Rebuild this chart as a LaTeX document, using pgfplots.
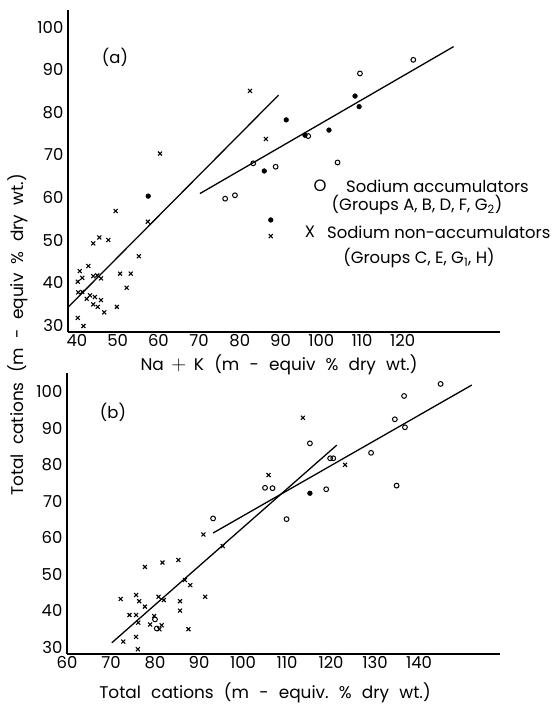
\documentclass[border=0pt]{standalone}
\usepackage{fontspec}
\setmainfont{Poppins}
\usepackage{pgfplots}
\pgfplotsset{compat=1.18}
\newcommand\ws[1][0.6em]{\hspace{#1}}
\pgfplotsset{
  myax/.style={
    scale only axis, axis lines=left, axis line style={-, line width=1.4pt},
    tick style={draw=none}, clip=false,
    /pgf/number format/assume math mode=true,
    ticklabel style={font=\fontsize{16.5}{19}\selectfont},
    xticklabel style={yshift=3pt},
    yticklabel style={xshift=1pt},
  },
  xs/.style={only marks, mark=x, mark size=2.8pt, mark options={line width=1.1pt}, black},
  os/.style={only marks, mark=o, mark size=2.4pt, mark options={line width=1pt}, black},
  fs/.style={only marks, mark=*, mark size=2.4pt, black},
  ln/.style={line width=1.3pt, black, no marks},
}
\begin{document}
\begin{tikzpicture}
\useasboundingbox (0bp,0bp) rectangle (556bp,705bp);
% ---------- panel (a)
\begin{axis}[myax, at={(68bp,373bp)}, anchor=south west, width=432bp, height=322bp,
  xmin=37.8, xmax=143.9, ymin=28.4, ymax=104,
  xtick={40,50,...,120}, ytick={30,40,...,100}]
\addplot[xs] coordinates {
(82.5,85.0) (86.4,73.7) (87.6,50.9) (60.4,70.3) (49.5,56.8) (57.4,54.3)
(44.0,49.2) (45.5,50.6) (47.7,50.0) (55.2,46.2) (40.7,42.7) (42.8,43.9)
(41.3,41.1) (40.2,40.2) (44.0,41.5) (45.0,41.7) (45.9,41.0) (50.6,42.1)
(53.2,42.1) (52.2,38.8) (40.3,37.7) (41.3,37.8) (42.4,36.2) (43.2,37.0)
(44.4,36.6) (44.0,34.9) (45.1,34.3) (45.9,35.9) (46.7,33.0) (49.8,34.3)
(40.2,31.7) (41.6,29.8)};
\addplot[os] coordinates {
(122.6,92.3) (109.5,89.1) (96.8,74.4) (83.3,68.0) (88.8,67.2) (104.0,68.2)
(76.4,59.7) (78.8,60.5)};
\addplot[fs] coordinates {
(108.3,83.8) (109.3,81.3) (91.4,78.2) (101.9,75.8) (86.0,66.2) (87.6,54.7)
(57.5,60.3) (96.0,74.6)};
\addplot[ln] coordinates {(37.9,34.3) (89.5,84.0)};
\addplot[ln] coordinates {(70.2,60.9) (132.5,95.4)};
\end{axis}
% ---------- panel (b)
\begin{axis}[myax, at={(67bp,51bp)}, anchor=south west, width=433bp, height=281bp,
  xmin=60, xmax=158.4, ymin=28.1, ymax=105.2,
  xtick={60,70,...,140}, ytick={30,40,...,100}]
\addplot[xs] coordinates {
(113.6,92.9) (105.8,77.2) (123.2,80.0) (91.0,60.9) (95.4,57.7) (77.7,52.0)
(81.7,53.2) (85.3,53.9) (86.8,48.4) (88.0,47.0) (91.4,43.8) (72.2,43.2)
(75.7,44.3) (76.4,42.6) (80.8,43.8) (82.0,42.9) (85.7,42.6) (85.7,40.0)
(77.7,41.1) (74.2,38.8) (75.7,38.8) (76.2,36.7) (79.8,38.5) (78.9,36.2)
(81.5,36.0) (81.0,34.9) (87.6,34.9) (75.7,32.8) (72.8,31.5) (76.1,29.4)};
\addplot[os] coordinates {
(144.9,102.2) (136.6,98.9) (134.5,92.5) (136.8,90.3) (129.1,83.3) (134.9,74.3)
(115.2,85.9) (119.8,81.8) (120.5,81.8) (105.0,73.7) (106.7,73.6) (118.9,73.3)
(109.9,65.1) (93.2,65.3) (80.0,37.6) (80.4,35.1)};
\addplot[fs] coordinates {(115.2,72.2)};
\addplot[ln] coordinates {(70.2,31.2) (121.3,85.4)};
\addplot[ln] coordinates {(93.2,61.3) (152.0,101.9)};
\end{axis}
% ---------- texts
\begin{scope}[every node/.style={font=\fontsize{16.5}{19}\selectfont, inner sep=0pt}]
\node at (115bp,648bp) {(a)};
\node at (113bp,293bp) {(b)};
\node at (320bp,519bp) {O};
\node[anchor=west] at (346bp,519bp) {Sodium accumulators};
\node at (417bp,500bp) {(Groups A, B, D, F, G\textsubscript{2})};
\node at (310bp,473bp) {X};
\node[anchor=west] at (327bp,473bp) {Sodium non-accumulators};
\node at (419bp,447bp) {(Groups C, E, G\textsubscript{1}, H)};
\node[font=\fontsize{17}{20}\selectfont] at (279bp,340bp) {Na\ws[0.45em]{\fontsize{21}{21}\selectfont$+$}\ws[0.45em]K\ws(m\ws-\ws equiv\ws\%\ws dry\ws wt.)};
\node[font=\fontsize{17}{20}\selectfont] at (265bp,12bp) {Total\ws cations\ws(m\ws-\ws equiv.\ws\%\ws dry\ws wt.)};
\node[rotate=90, font=\fontsize{17}{20}\selectfont] at (18bp,370bp) {Total\ws[0.55em]cations\ws[0.55em](m\ws[0.55em]-\ws[0.55em]equiv\ws[0.55em]\%\ws[0.55em]dry\ws[0.55em]wt.)};
\end{scope}
\end{tikzpicture}
\end{document}
